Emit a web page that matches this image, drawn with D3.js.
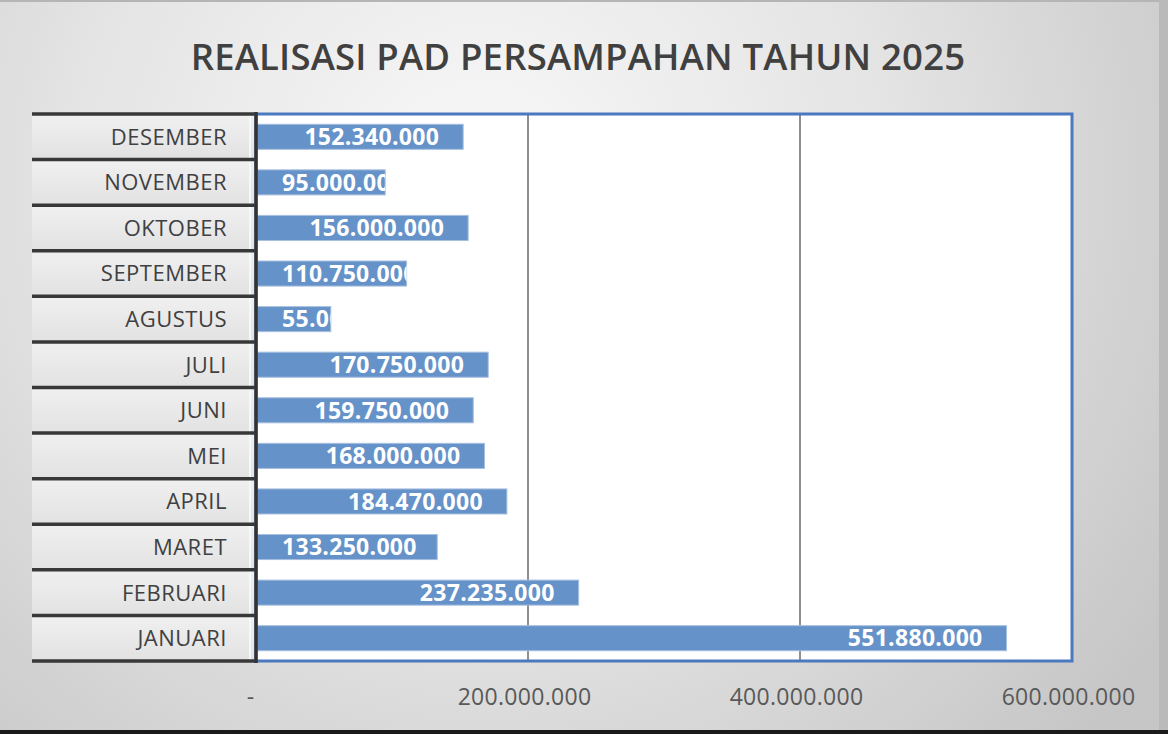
<!DOCTYPE html>
<html>
<head>
<meta charset="utf-8">
<script src="https://cdn.jsdelivr.net/npm/d3@7"></script>
<style>
  html, body { margin: 0; padding: 0; background: #fff; }
  svg { display: block; }
</style>
</head>
<body>
<div id="chart"></div>
<script>
const months = ["DESEMBER", "NOVEMBER", "OKTOBER", "SEPTEMBER", "AGUSTUS", "JULI",
                "JUNI", "MEI", "APRIL", "MARET", "FEBRUARI", "JANUARI"]
const realisasi = [152340000, 95000000, 156000000, 110750000, 55000000, 170750000,
                   159750000, 168000000, 184470000, 133250000, 237235000, 551880000]
const xTicks = [0, 200000000, 400000000, 600000000]
const title = "REALISASI PAD PERSAMPAHAN TAHUN 2025"

const width = 1168
const height = 734
const plot = { left: 256, right: 1072, top: 114, bottom: 661 }

const idLocale = d3.formatLocale({ decimal: ",", thousands: ".", grouping: [3], currency: ["Rp", ""] })
const fmt = idLocale.format(",")

const svg = d3.select("#chart").append("svg")
    .attr("width", width)
    .attr("height", height)

const defs = svg.append("defs")
const bg = defs.append("radialGradient")
    .attr("id", "bg")
    .attr("gradientUnits", "userSpaceOnUse")
    .attr("cx", 480).attr("cy", 180).attr("r", 820)
bg.append("stop").attr("offset", "0%").attr("stop-color", "#f8f8f8")
bg.append("stop").attr("offset", "50%").attr("stop-color", "#e4e4e4")
bg.append("stop").attr("offset", "100%").attr("stop-color", "#c6c6c6")

const cell = defs.append("linearGradient").attr("id", "cell")
    .attr("x1", 0).attr("x2", 0).attr("y1", 0).attr("y2", 1)
cell.append("stop").attr("offset", "0%").attr("stop-color", "#f0f0f0")
cell.append("stop").attr("offset", "100%").attr("stop-color", "#e2e2e2")

// background + frame
svg.append("rect").attr("width", width).attr("height", height).attr("fill", "url(#bg)")
svg.append("line").attr("x1", 0).attr("x2", width).attr("y1", 1).attr("y2", 1)
    .attr("stroke", "#b5b5b5").attr("stroke-width", 2)
svg.append("rect").attr("x", 1159).attr("y", 0).attr("width", 9).attr("height", height)
    .attr("fill", "#bababa")
svg.append("rect").attr("x", 0).attr("y", 730).attr("width", width).attr("height", 4)
    .attr("fill", "#1a1a1a")

const x = d3.scaleLinear().domain([0, 600000000]).range([plot.left, plot.right])
const y = d3.scaleBand().domain(months).range([plot.top, plot.bottom])
    .paddingInner(0.45).paddingOuter(0.225)

// title
svg.append("text")
    .attr("x", 578).attr("y", 70)
    .attr("text-anchor", "middle")
    .attr("font-family", "'Open Sans', sans-serif")
    .attr("font-weight", 600)
    .attr("font-size", 36.5)
    .attr("letter-spacing", 0.2)
    .attr("fill", "#404040")
    .text(title)

// plot area
svg.append("rect")
    .attr("x", plot.left).attr("y", plot.top)
    .attr("width", plot.right - plot.left).attr("height", plot.bottom - plot.top)
    .attr("fill", "#fff")

// gridlines
svg.append("g").selectAll("line")
    .data(xTicks.filter(d => d > 0 && d < 600000000))
    .join("line")
    .attr("x1", d => x(d)).attr("x2", d => x(d))
    .attr("y1", plot.top).attr("y2", plot.bottom)
    .attr("stroke", "#8f8f8f").attr("stroke-width", 2)

// label cells (category column looks like a table)
const step = y.step()
const cells = svg.append("g")
cells.selectAll("rect")
    .data(months)
    .join("rect")
    .attr("x", 32).attr("width", plot.left - 32)
    .attr("y", d => y(d) - y.paddingOuter() * step)
    .attr("height", step)
    .attr("fill", "url(#cell)")
cells.selectAll("line.edge")
    .data(months)
    .join("line").attr("class", "edge")
    .attr("x1", 250).attr("x2", 250)
    .attr("y1", d => y(d) - y.paddingOuter() * step)
    .attr("y2", d => y(d) - y.paddingOuter() * step + step)
    .attr("stroke", "#f7f7f7").attr("stroke-width", 2)
const seps = d3.range(months.length + 1).map(i => plot.top + i * step)
cells.selectAll("line.sep")
    .data(seps)
    .join("line").attr("class", "sep")
    .attr("x1", 32).attr("x2", plot.left)
    .attr("y1", d => d).attr("y2", d => d)
    .attr("stroke", "#383838").attr("stroke-width", 3.5)

cells.selectAll("text")
    .data(months)
    .join("text")
    .attr("x", 227)
    .attr("y", d => y(d) + y.bandwidth() / 2)
    .attr("dy", "0.36em")
    .attr("text-anchor", "end")
    .attr("font-family", "'Open Sans', sans-serif")
    .attr("font-size", 22)
    .attr("letter-spacing", 0.5)
    .attr("fill", "#404040")
    .text(d => d)

// bars
const bars = svg.append("g")
bars.selectAll("rect")
    .data(months)
    .join("rect")
    .attr("x", x(0))
    .attr("y", d => y(d))
    .attr("width", (d, i) => x(realisasi[i]) - x(0))
    .attr("height", y.bandwidth())
    .attr("fill", "#6592c8")
    .attr("stroke", "#a7c0e0").attr("stroke-width", 1)

// clip each label to its bar
defs.selectAll("clipPath")
    .data(months)
    .join("clipPath")
    .attr("id", (d, i) => "clip" + i)
    .append("rect")
    .attr("x", x(0))
    .attr("y", d => y(d))
    .attr("width", (d, i) => x(realisasi[i]) - x(0))
    .attr("height", y.bandwidth())

const labels = svg.append("g")
    .selectAll("text")
    .data(months)
    .join("text")
    .attr("clip-path", (d, i) => "url(#clip" + i + ")")
    .attr("y", d => y(d) + y.bandwidth() / 2)
    .attr("dy", "0.36em")
    .attr("font-family", "'Open Sans', sans-serif")
    .attr("font-weight", 700)
    .attr("font-size", 23)
    .attr("letter-spacing", 0.3)
    .attr("fill", "#fff")
    .text((d, i) => fmt(realisasi[i]))
labels.each(function (d, i) {
    const w = this.getComputedTextLength()
    const start = Math.max(x(realisasi[i]) - 24 - w, x(0) + 26)
    d3.select(this).attr("x", start)
})

// plot border and axis line
svg.append("rect")
    .attr("x", plot.left).attr("y", plot.top)
    .attr("width", plot.right - plot.left).attr("height", plot.bottom - plot.top)
    .attr("fill", "none").attr("stroke", "#4a79bf").attr("stroke-width", 3)
svg.append("line")
    .attr("x1", plot.left).attr("x2", plot.left)
    .attr("y1", plot.top - 2).attr("y2", plot.bottom + 2)
    .attr("stroke", "#333").attr("stroke-width", 3.5)

// x axis labels
const xAxis = svg.append("g")
    .attr("transform", `translate(0,${plot.bottom})`)
    .call(d3.axisBottom(x).tickValues(xTicks).tickSize(0).tickPadding(44)
        .tickFormat(d => d === 0 ? "-" : fmt(d)))
xAxis.select(".domain").remove()
xAxis.selectAll("text")
    .attr("font-family", "'Open Sans', sans-serif")
    .attr("font-size", 23)
    .attr("letter-spacing", 0.3)
    .attr("fill", "#595959")
    .attr("dy", "0")
xAxis.selectAll(".tick text").filter(d => d === 0).attr("dx", -6)
xAxis.selectAll(".tick text").filter(d => d > 0).attr("dx", -4)
</script>
</body>
</html>
